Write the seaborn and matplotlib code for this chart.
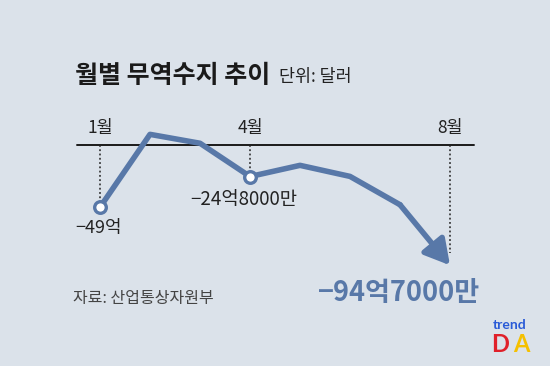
import matplotlib
matplotlib.use("Agg")
import matplotlib.pyplot as plt
import seaborn as sns
import pandas as pd

# ---- data (억 달러) ----
months = [1, 2, 3, 4, 5, 6, 7, 8]
values = [-49.0, 8.4, 1.4, -24.8, -16.0, -24.7, -47.0, -94.7]
tick_months = [1, 4, 8]
tick_labels = ["1월", "4월", "8월"]
marker_months = [1, 4]
value_labels = {1: "−49억", 4: "−24억8000만", 8: "−94억7000만"}
title = "월별 무역수지 추이"
unit = "단위: 달러"
source = "자료: 산업통상자원부"

BG = "#dbe2ea"
LINE = "#5878a8"

sns.set_theme(style="white")
plt.rcParams["font.family"] = ["Noto Sans CJK KR", "DejaVu Sans"]

fig = plt.figure(figsize=(5.5, 3.66), dpi=100)
fig.patch.set_facecolor(BG)
ax = fig.add_axes([0, 0, 1, 1])
ax.set_facecolor(BG)
ax.set_xlim(-1, 10)
ax.set_ylim(-174.0, 114.2)
ax.axis("off")

df = pd.DataFrame({"month": months, "value": values})
line_df = df[df["month"] <= 7]

# zero line
ax.plot([0.54, 8.48], [0, 0], color="#1a1a1a", lw=1.4, zorder=1)

# dotted guides
vmap = dict(zip(months, values))
for m in tick_months:
    end = vmap[m] if m != 8 else -85
    ax.plot([m, m], [0, end], color="#222222", lw=1.1, ls=(0, (1.2, 1.6)), zorder=1)

sns.lineplot(data=line_df, x="month", y="value", ax=ax, color=LINE, lw=4.0,
             zorder=3, legend=False)
# final arrow segment (Jul -> Aug)
ax.annotate("", xy=(8, vmap[8]), xytext=(7, vmap[7]),
            arrowprops=dict(arrowstyle="-|>,head_length=0.75,head_width=0.42",
                            color=LINE, lw=4.0, shrinkA=0, shrinkB=0,
                            mutation_scale=20, capstyle="round"),
            zorder=3)

mk = df[df["month"].isin(marker_months)]
sns.scatterplot(data=mk, x="month", y="value", ax=ax, s=70, color="white",
                edgecolor=LINE, linewidth=2.4, zorder=4, legend=False)

for m, lab in zip(tick_months, tick_labels):
    ax.text(m, 13.5, lab, ha="center", va="center", fontsize=12.5, color="#222222")

ax.text(0.5, -65, value_labels[1], ha="left", va="center", fontsize=13, color="#222222")
ax.text(2.8, -42.5, value_labels[4], ha="left", va="center", fontsize=13.5, color="#222222")
ax.text(5.35, -116.5, value_labels[8], ha="left", va="center", fontsize=19.5,
        fontweight="bold", color=LINE)

fig.text(75 / 550, 1 - 76 / 366, title, ha="left", va="center", fontsize=18,
         fontweight="bold", color="#1a1a1a")
fig.text(279 / 550, 1 - 77 / 366, unit, ha="left", va="center", fontsize=12.5,
         color="#222222")
fig.text(73 / 550, 1 - 298 / 366, source, ha="left", va="center", fontsize=11.5,
         color="#444444")

# logo
fig.text(510 / 550, 1 - 325 / 366, "trend", ha="center", va="center", fontsize=10,
         fontweight="bold", color="#2a5bd7", family=["Lato", "DejaVu Sans"])
fig.text(500 / 550, 1 - 344 / 366, "D", ha="center", va="center", fontsize=17,
         fontweight="bold", color="#e0202a", family=["Lato", "DejaVu Sans"])
fig.text(521 / 550, 1 - 344 / 366, "A", ha="center", va="center", fontsize=17,
         fontweight="bold", color="#f5c000", family=["Lato", "DejaVu Sans"])

fig.savefig("out.png", dpi=100, facecolor=BG)
